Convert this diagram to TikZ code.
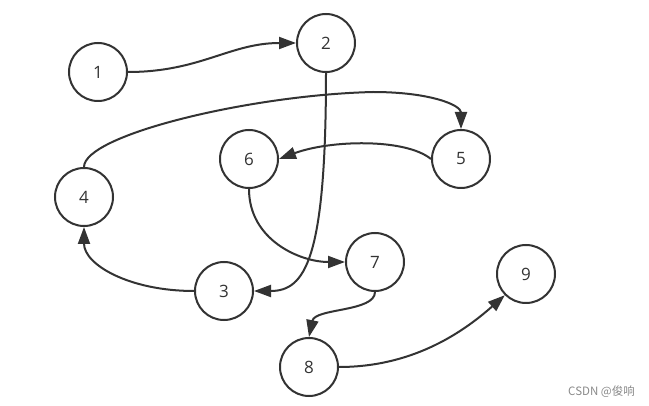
\documentclass[tikz,border=0pt]{standalone}
\usepackage{fontspec}
\setmainfont{Open Sans}
\newfontfamily\cjkfont{Noto Sans CJK SC}
\usetikzlibrary{arrows.meta}
\definecolor{ink}{HTML}{333333}
\definecolor{wm}{HTML}{8A8A8A}
\tikzset{
  vertex/.style={circle, draw=ink, line width=2pt, minimum size=58pt, inner sep=0pt,
    font=\fontsize{17}{17}\selectfont, text=ink},
  link/.style={draw=ink, line width=2pt, -{Triangle[length=17pt,width=12pt]}},
}
\begin{document}
\begin{tikzpicture}[x=1pt,y=-1pt]
\useasboundingbox[fill=white] (0,0) rectangle (649,406);
\node[vertex] (n1) at (98,72) {1};
\node[vertex] (n2) at (326,43) {2};
\node[vertex] (n4) at (84,197) {4};
\node[vertex] (n6) at (249,159) {6};
\node[vertex] (n5) at (461,159) {5};
\node[vertex] (n7) at (375,262) {7};
\node[vertex] (n3) at (224,291) {3};
\node[vertex] (n8) at (309,367) {8};
\node[vertex] (n9) at (526,274) {9};
\coordinate (peak) at (373,92);
\draw[link] (n1.east) .. controls (200,72) and (230,43) .. (n2.west);
\draw[link] (n2.south) .. controls (326,260) and (305,291) .. (n3.east);
\draw[link] (n4.north) .. controls (84,135) and (250,95) .. (peak) .. controls (430,92) and (461,105) .. (n5.north);
\draw[link] (n5.west) .. controls (405,138) and (330,140) .. (n6.east);
\draw[link] (n6.south) .. controls (249,240) and (300,262) .. (n7.west);
\draw[link] (n3.west) .. controls (130,291) and (84,265) .. (n4.south);
\draw[link] (n7.south) .. controls (375,312) and (315,308) .. (n8.north);
\draw[link] (n8.east) .. controls (410,367) and (460,335) .. (n9.south west);
\node[anchor=east, text=wm, font=\cjkfont\fontsize{11.5}{11.5}\selectfont, inner sep=0pt] (wmark) at (635,392) {CSDN @俊响};
\end{tikzpicture}
\end{document}
